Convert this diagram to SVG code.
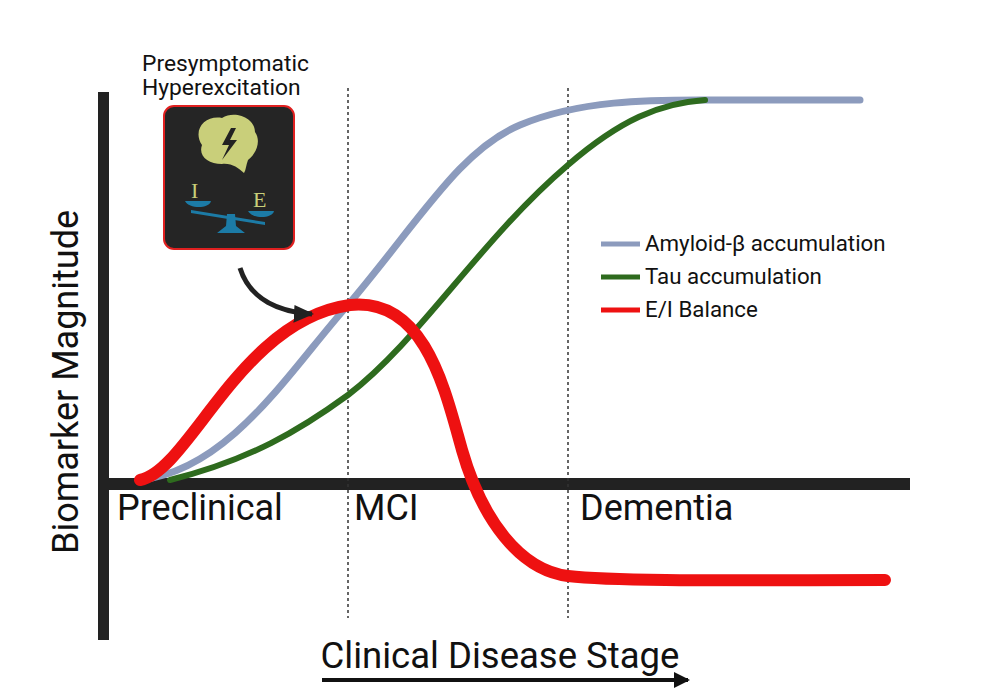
<svg xmlns="http://www.w3.org/2000/svg" width="1000" height="700" viewBox="0 0 1000 700">
<style>
text{font-family:Roboto,"Liberation Sans",sans-serif;fill:#111}
.big{font-size:36px}
.leg{font-size:22.3px}
.dot{stroke:#333;stroke-width:1.5;stroke-dasharray:3,3}
.c{fill:none;stroke-linecap:round}
</style>
<defs>
<marker id="ah" markerWidth="20" markerHeight="20" refX="14" refY="10" orient="auto" markerUnits="userSpaceOnUse"><path d="M0,2 L16,10 L0,18 z" fill="#111"/></marker>
<marker id="ah2" markerWidth="24" markerHeight="24" refX="18" refY="12" orient="auto" markerUnits="userSpaceOnUse"><path d="M0,4 L20,12 L0,22 z" fill="#222"/></marker>
</defs>
<rect width="1000" height="700" fill="#fff"/>
<g id="axes">
<rect x="98" y="92" width="11" height="548" fill="#222"/>
<rect x="98" y="478" width="812" height="12" fill="#222"/>
<line class="dot" x1="348" y1="88" x2="348" y2="618"/>
<line class="dot" x1="568" y1="88" x2="568" y2="618"/>
</g>
<g id="connectors">
<path class="c" stroke="#8C9BBD" stroke-width="7" d="M140,480 C230,470 290,370 348,305 C420,220 460,150 520,125 C580,100 650,100 700,100 L860,100"/>
<path class="c" stroke="#2E6B1E" stroke-width="6" d="M170,480 C250,460 300,430 348,395 C420,340 480,240 568,165 C620,120 660,103 705,100"/>
<path class="c" stroke="#EE1111" stroke-width="12" d="M140,480 C190,470 240,320 350,305 C425,297 445,390 462,450 C482,520 520,570 568,576 C620,582 760,580 885,580"/>
<path d="M240,268 C250,300 280,312 312,314" fill="none" stroke="#222" stroke-width="5" marker-end="url(#ah2)"/>
<line x1="322" y1="680" x2="688" y2="680" stroke="#111" stroke-width="4" marker-end="url(#ah)"/>
</g>
<g id="icon">
<rect x="164" y="106" width="130" height="143" rx="10" fill="#252525" stroke="#e02020" stroke-width="2"/>
<path d="M202,145 C192,130 205,115 222,118 C235,110 255,118 255,132 C262,142 255,155 248,160 C246,165 246,170 244,173 C238,168 232,163 222,164 C208,164 198,156 202,145z" fill="#C9CF7A"/>
<path d="M231,128 L222,145 L229,145 L222,160 L237,140 L230,140 L236,128z" fill="#222"/>
<text x="191" y="198" style="font-family:'Liberation Serif',serif;font-size:22px;fill:#C9CF7A">I</text>
<text x="253" y="207" style="font-family:'Liberation Serif',serif;font-size:22px;fill:#C9CF7A">E</text>
<path d="M185,201 L211,201 C209,209 189,209 185,201z" fill="#1C7BA6"/>
<path d="M248,211 L274,211 C272,219 252,219 248,211z" fill="#1C7BA6"/>
<path d="M191,210 L265,222 L265,225 L191,213z" fill="#1C7BA6"/>
<path d="M227,214 L235,214 L236,226 L245,233 L217,233 L226,226z" fill="#1C7BA6"/>
</g>
<g id="labels">
<text x="142" y="71" style="font-size:22.8px">Presymptomatic</text>
<text x="142" y="95" style="font-size:22.8px">Hyperexcitation</text>
<text class="big" x="117" y="520">Preclinical</text>
<text class="big" x="354" y="520">MCI</text>
<text class="big" x="580" y="520">Dementia</text>
<text class="big" x="500" y="668" text-anchor="middle" style="font-size:36.5px">Clinical Disease Stage</text>
<text transform="translate(78,382) rotate(-90)" text-anchor="middle" style="font-size:36px">Biomarker Magnitude</text>
</g>
<g id="legend">
<line x1="601" y1="244" x2="640" y2="244" stroke="#8C9BBD" stroke-width="5"/>
<line x1="601" y1="277" x2="640" y2="277" stroke="#2E6B1E" stroke-width="5"/>
<line x1="601" y1="310" x2="640" y2="310" stroke="#EE1111" stroke-width="5"/>
<text class="leg" x="645" y="251">Amyloid-β accumulation</text>
<text class="leg" x="645" y="284">Tau accumulation</text>
<text class="leg" x="645" y="317">E/I Balance</text>
</g>
</svg>
